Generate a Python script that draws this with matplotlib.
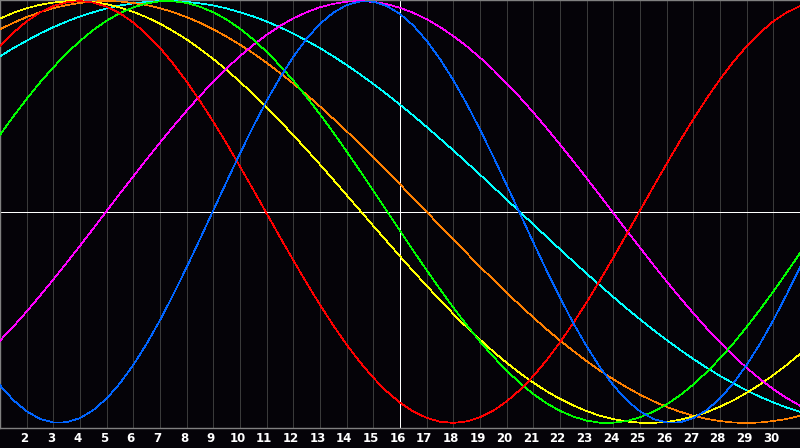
import numpy as np
import matplotlib
matplotlib.use("Agg")
import matplotlib.pyplot as plt
import matplotlib.transforms as mtrans

# half-day steps from day 1 to day 31
days = np.arange(1, 31.5, 0.5)
day_labels = list(range(2, 31))
today = 16

# cycle values (percent)
physical = [-82.2, -89.2, -94.5, -98.1, -99.8, -99.7, -97.7, -93.9, -88.4, -81.2, -72.5, -62.5, -51.3, -39.1, -26.2, -12.8,
            0.8, 14.4, 27.8, 40.6, 52.7, 63.7, 73.6, 82.2, 89.2, 94.5, 98.1, 99.8, 99.7, 97.7, 93.9, 88.4,
            81.2, 72.5, 62.5, 51.3, 39.1, 26.2, 12.8, -0.8, -14.4, -27.8, -40.6, -52.7, -63.7, -73.6, -82.2, -89.2,
            -94.5, -98.1, -99.8, -99.7, -97.7, -93.9, -88.4, -81.2, -72.5, -62.5, -51.3, -39.1, -26.2]
emotional = [78.6, 85.0, 90.4, 94.6, 97.6, 99.4, 100.0, 99.3, 97.3, 94.2, 89.8, 84.3, 77.8, 70.2, 61.8, 52.6,
             42.8, 32.4, 21.6, 10.5, -0.7, -11.9, -22.9, -33.7, -44.0, -53.8, -62.9, -71.2, -78.6, -85.0, -90.4, -94.6,
             -97.6, -99.4, -100.0, -99.3, -97.3, -94.2, -89.8, -84.3, -77.8, -70.2, -61.8, -52.6, -42.8, -32.4, -21.6, -10.5,
             0.7, 11.9, 22.9, 33.7, 44.0, 53.8, 62.9, 71.2, 78.6, 85.0, 90.4, 94.6, 97.6]
intellectual = [36.6, 45.3, 53.6, 61.4, 68.6, 75.2, 81.1, 86.3, 90.7, 94.3, 97.0, 98.9, 99.9, 99.9, 99.1, 97.3,
                94.7, 91.2, 86.9, 81.8, 75.9, 69.4, 62.3, 54.5, 46.3, 37.7, 28.7, 19.5, 10.1, 0.6, -8.9, -18.4,
                -27.6, -36.6, -45.3, -53.6, -61.4, -68.6, -75.2, -81.1, -86.3, -90.7, -94.3, -97.0, -98.9, -99.9, -99.9, -99.1,
                -97.3, -94.7, -91.2, -86.9, -81.8, -75.9, -69.4, -62.3, -54.5, -46.3, -37.7, -28.7, -19.5]
intuitive = [-61.0, -54.3, -47.2, -39.7, -32.0, -24.1, -16.0, -7.8, 0.5, 8.8, 16.9, 25.0, 32.9, 40.6, 48.0, 55.1,
             61.8, 68.1, 73.9, 79.2, 84.0, 88.2, 91.8, 94.7, 97.1, 98.7, 99.7, 100.0, 99.6, 98.6, 96.8, 94.4,
             91.4, 87.7, 83.4, 78.6, 73.2, 67.4, 61.0, 54.3, 47.2, 39.7, 32.0, 24.1, 16.0, 7.8, -0.5, -8.8,
             -16.9, -25.0, -32.9, -40.6, -48.0, -55.1, -61.8, -68.1, -73.9, -79.2, -84.0, -88.2, -91.8]
aesthetic = [91.7, 94.4, 96.6, 98.2, 99.3, 99.9, 100.0, 99.5, 98.5, 96.9, 94.9, 92.3, 89.3, 85.7, 81.8, 77.3,
             72.5, 67.3, 61.7, 55.8, 49.6, 43.1, 36.4, 29.5, 22.5, 15.3, 8.0, 0.7, -6.6, -13.8, -21.0, -28.1,
             -35.0, -41.8, -48.3, -54.6, -60.5, -66.2, -71.5, -76.4, -80.9, -85.0, -88.6, -91.7, -94.4, -96.6, -98.2, -99.3,
             -99.9, -100.0, -99.5, -98.5, -96.9, -94.9, -92.3, -89.3, -85.7, -81.8, -77.3, -72.5, -67.3]
awareness = [86.6, 89.7, 92.4, 94.7, 96.6, 98.1, 99.1, 99.8, 100.0, 99.8, 99.1, 98.1, 96.6, 94.7, 92.4, 89.7,
             86.6, 83.1, 79.3, 75.2, 70.7, 65.9, 60.9, 55.6, 50.0, 44.2, 38.3, 32.1, 25.9, 19.5, 13.1, 6.5,
             0.0, -6.5, -13.1, -19.5, -25.9, -32.1, -38.3, -44.2, -50.0, -55.6, -60.9, -65.9, -70.7, -75.2, -79.3, -83.1,
             -86.6, -89.7, -92.4, -94.7, -96.6, -98.1, -99.1, -99.8, -100.0, -99.8, -99.1, -98.1, -96.6]
spiritual = [73.8, 77.7, 81.2, 84.6, 87.6, 90.3, 92.7, 94.7, 96.5, 97.9, 98.9, 99.6, 100.0, 100.0, 99.6, 98.9,
             97.9, 96.5, 94.7, 92.7, 90.3, 87.6, 84.6, 81.2, 77.7, 73.8, 69.7, 65.3, 60.7, 55.9, 50.9, 45.7,
             40.3, 34.8, 29.2, 23.5, 17.7, 11.8, 5.9, 0.0, -5.9, -11.8, -17.7, -23.5, -29.2, -34.8, -40.3, -45.7,
             -50.9, -55.9, -60.7, -65.3, -69.7, -73.8, -77.7, -81.2, -84.6, -87.6, -90.3, -92.7, -94.7]

series = [
    (spiritual, "#00ffff"),
    (awareness, "#ff8000"),
    (aesthetic, "#ffff00"),
    (intuitive, "#ff00ff"),
    (intellectual, "#00ff00"),
    (emotional, "#ff0000"),
    (physical, "#0064ff"),
]

bg = "#050308"
fig = plt.figure(figsize=(8, 4.48), dpi=100, facecolor=bg)
ax = fig.add_axes([0, 20 / 448, 1, 428 / 448], facecolor=bg)

# day grid
for d in day_labels:
    ax.axvline(d, color="#3a3a3a", lw=0.5, zorder=1, antialiased=False)
ax.axvline(today, color="white", lw=0.6, zorder=2, antialiased=False)
ax.axhline(0, color="white", lw=0.6, zorder=2, antialiased=False)

for vals, col in series:
    ax.plot(days, vals, color=col, lw=0.5, zorder=3, antialiased=False)

ax.set_xlim(1, 31)
ax.set_ylim(-102.4, 100.5)
ax.set_yticks([])
ax.set_xticks(day_labels)
ax.set_xticklabels([str(d) for d in day_labels], color="white", fontsize=8.5,
                   fontweight="bold", family="DejaVu Sans")
ax.tick_params(axis="x", length=0, pad=3)
# labels sit a little left of their grid line
shift = mtrans.ScaledTranslation(-2.5 / 100, 0, fig.dpi_scale_trans)
for lbl in ax.get_xticklabels():
    lbl.set_transform(lbl.get_transform() + shift)
for s in ax.spines.values():
    s.set_color("#808080")
    s.set_linewidth(1)
ax.spines["right"].set_visible(False)

fig.savefig("out.png", dpi=100, facecolor=bg)
